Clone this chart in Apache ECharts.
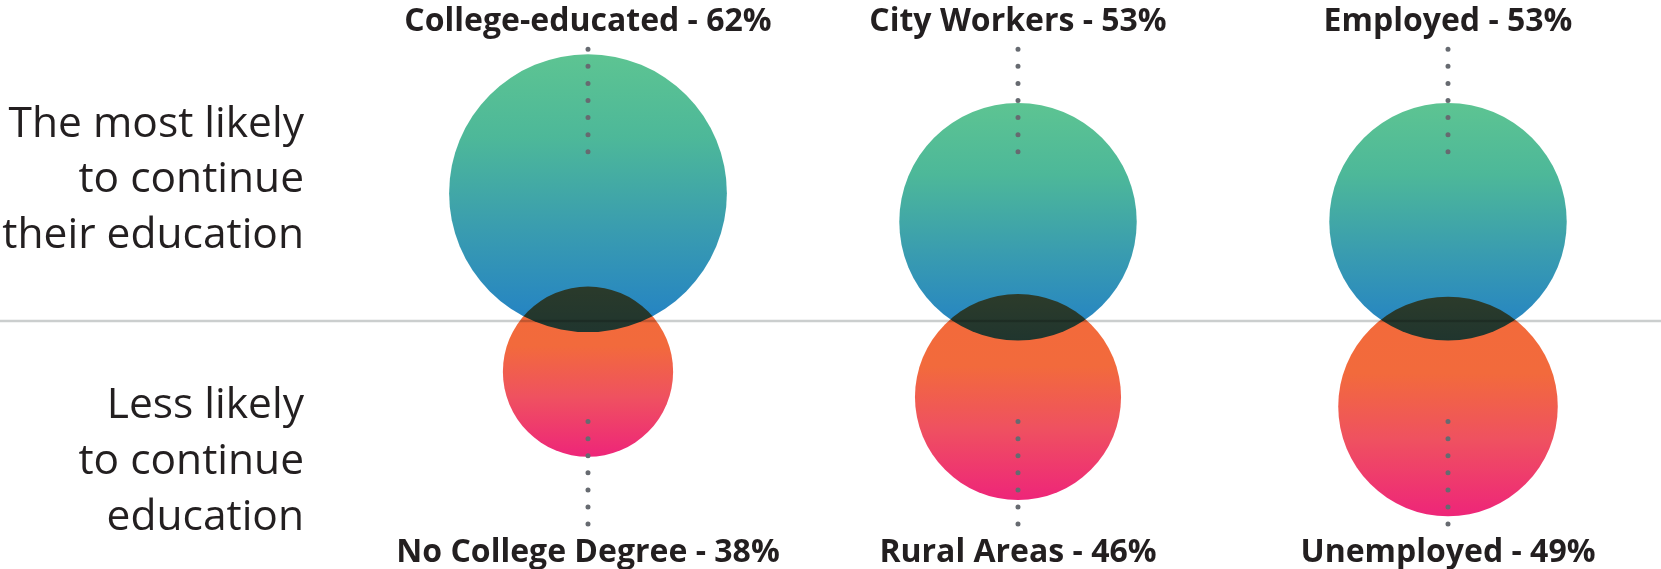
<!DOCTYPE html>
<html>
<head>
<meta charset="utf-8">
<script src="https://cdn.jsdelivr.net/npm/echarts@6/dist/echarts.min.js"></script>
<style>
html,body{margin:0;padding:0;background:#fff;}
#chart{width:1661px;height:569px;}
</style>
</head>
<body>
<div id="chart"></div>
<script>
// ---- data ----
const topLabels = ['College-educated', 'City Workers', 'Employed'];
const topValues = [62, 53, 53];
const bottomLabels = ['No College Degree', 'Rural Areas', 'Unemployed'];
const bottomValues = [38, 46, 49];
const topCaption = ['The most likely', 'to continue', 'their education'];
const bottomCaption = ['Less likely', 'to continue', 'education'];

// ---- layout / style constants ----
const W = 1661, H = 569;
const DIVIDER_Y = 321;
const PX_PER_PCT_R = 2.24;     // circle radius per percentage point
const FONT = "'Open Sans', 'Noto Sans', sans-serif";
const TEXT_COLOR = '#231f20';
const DOT_COLOR = '#666a70';

const chart = echarts.init(document.getElementById('chart'), null, {renderer: 'canvas'});

const topGrad = new echarts.graphic.LinearGradient(0, 0, 0, 1, [
  {offset: 0, color: '#5dc492'},
  {offset: 0.3, color: '#4db899'},
  {offset: 0.62, color: '#3a9daf'},
  {offset: 1, color: '#2280c6'}
]);
const bottomGrad = new echarts.graphic.LinearGradient(0, 0, 0, 1, [
  {offset: 0, color: '#f36a3a'},
  {offset: 0.35, color: '#f26a3c'},
  {offset: 0.65, color: '#ef5160'},
  {offset: 1, color: '#ee2579'}
]);

function dots(y1, y2) {
  return function (params, api) {
    const x = api.coord([api.value(0), api.value(1)])[0];
    return {
      type: 'line',
      shape: {x1: x, y1: y1, x2: x, y2: y2},
      style: {stroke: DOT_COLOR, lineWidth: 5, lineDash: [0, 17.07], lineCap: 'round'},
      z2: 10
    };
  };
}

const labelStyle = {
  fontFamily: FONT, fontWeight: 'bold', fontSize: 32, color: TEXT_COLOR,
  interval: 0, verticalAlign: 'middle'
};

const captionStyle = {
  fill: TEXT_COLOR, fontFamily: FONT, fontWeight: 'normal', fontSize: 42.5,
  align: 'right', verticalAlign: 'top'
};

const option = {
  backgroundColor: '#ffffff',
  animation: false,
  graphic: [
    {
      type: 'line', z: 0,
      shape: {x1: 0, y1: DIVIDER_Y, x2: W, y2: DIVIDER_Y},
      style: {stroke: '#cbcece', lineWidth: 2.5}
    },
    {
      type: 'text', x: 304, y: 97, z: 1,
      style: Object.assign({}, captionStyle, {text: topCaption.join('\n'), lineHeight: 55.5})
    },
    {
      type: 'text', x: 304, y: 378, z: 1,
      style: Object.assign({}, captionStyle, {text: bottomCaption.join('\n'), lineHeight: 56})
    }
  ],
  grid: [
    {left: 588, right: 213, top: 41, height: 279},
    {left: 588, right: 213, top: 321, height: 209}
  ],
  xAxis: [
    {
      type: 'category', gridIndex: 0, position: 'top', boundaryGap: false,
      data: topLabels,
      axisLine: {show: false}, axisTick: {show: false}, splitLine: {show: false},
      axisLabel: Object.assign({}, labelStyle, {
        margin: 19,
        formatter: (v, i) => v + ' - ' + topValues[i] + '%'
      })
    },
    {
      type: 'category', gridIndex: 1, position: 'bottom', boundaryGap: false,
      data: bottomLabels,
      axisLine: {show: false}, axisTick: {show: false}, splitLine: {show: false},
      axisLabel: Object.assign({}, labelStyle, {
        margin: 23,
        formatter: (v, i) => v + ' - ' + bottomValues[i] + '%'
      })
    }
  ],
  yAxis: [
    {type: 'value', gridIndex: 0, min: 22, max: 110, show: false},
    {type: 'value', gridIndex: 1, min: 22, max: 88, inverse: true, show: false}
  ],
  series: [
    {
      type: 'scatter', xAxisIndex: 0, yAxisIndex: 0, z: 2,
      data: topValues,
      symbol: 'circle',
      symbolSize: v => v * PX_PER_PCT_R * 2,
      itemStyle: {color: topGrad, opacity: 1},
      blendMode: 'multiply',
      emphasis: {disabled: true}
    },
    {
      type: 'scatter', xAxisIndex: 1, yAxisIndex: 1, z: 2,
      data: bottomValues,
      symbol: 'circle',
      symbolSize: v => v * PX_PER_PCT_R * 2,
      itemStyle: {color: bottomGrad, opacity: 1},
      blendMode: 'multiply',
      emphasis: {disabled: true}
    },
    {
      type: 'custom', xAxisIndex: 0, yAxisIndex: 0, z: 5,
      data: topValues.map((v, i) => [i, v]),
      renderItem: dots(49.3, 152.5),
      silent: true
    },
    {
      type: 'custom', xAxisIndex: 1, yAxisIndex: 1, z: 5,
      data: bottomValues.map((v, i) => [i, v]),
      renderItem: dots(421.6, 524.8),
      silent: true
    }
  ]
};
chart.setOption(option);
</script>
</body>
</html>
